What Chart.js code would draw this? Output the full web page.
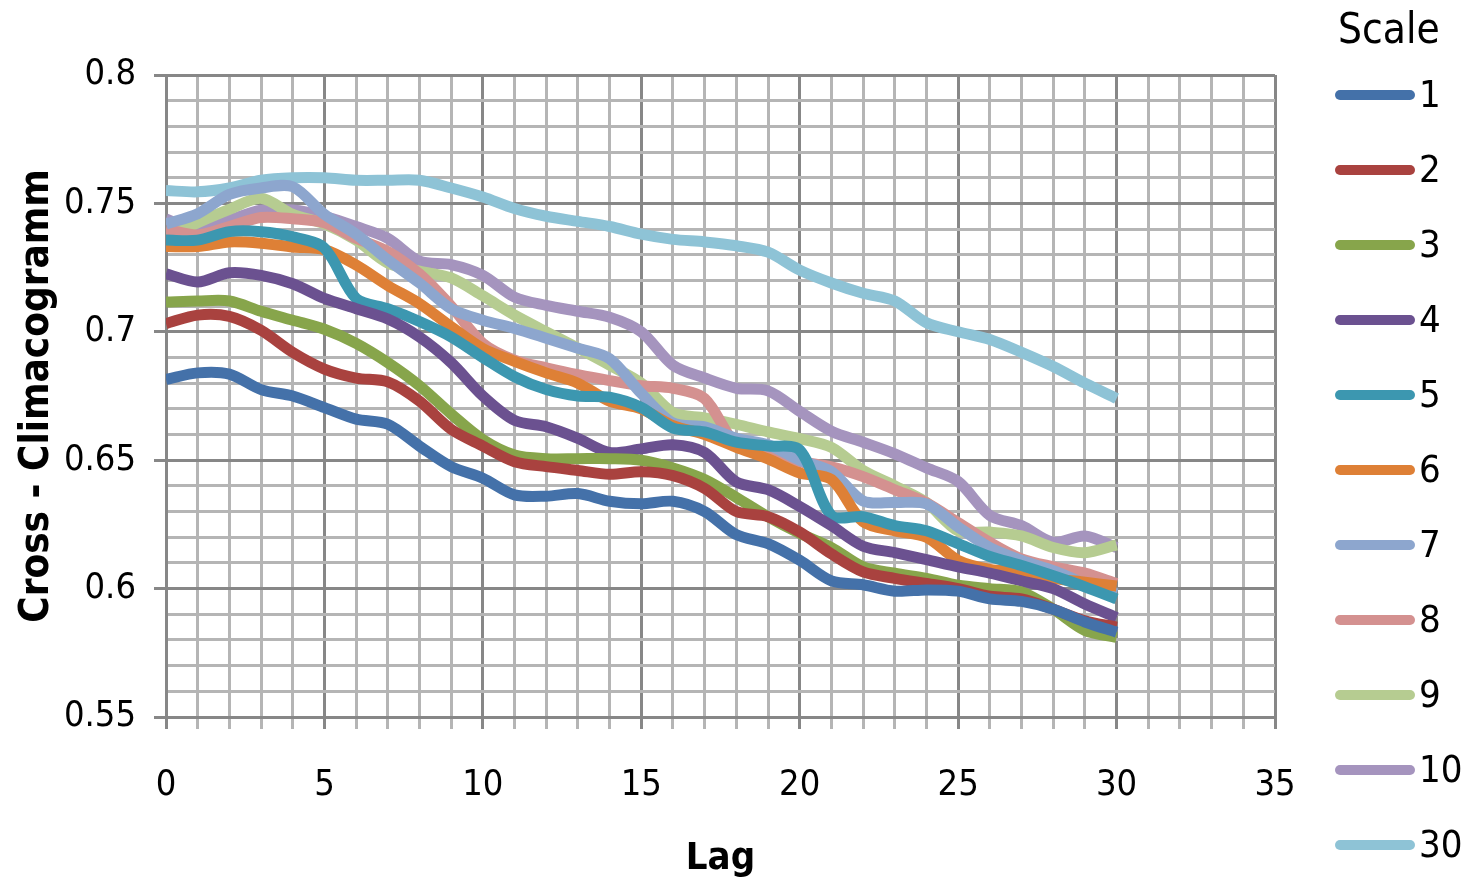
<!DOCTYPE html>
<html>
<head>
<meta charset="utf-8">
<script src="https://cdn.jsdelivr.net/npm/chart.js@4.4.0/dist/chart.umd.min.js"></script>
<style>
  html, body { margin: 0; padding: 0; background: #fff; }
  #wrap { width: 1467px; height: 888px; }
</style>
</head>
<body>
<div id="wrap"><canvas id="climaChart" width="1467" height="888"></canvas></div>
<script>
// lag values on the x axis
var lags = [0, 1, 2, 3, 4, 5, 6, 7, 8, 9, 10, 11, 12, 13, 14, 15, 16, 17, 18, 19, 20,
            21, 22, 23, 24, 25, 26, 27, 28, 29, 30];

var scaleNames = ['1', '2', '3', '4', '5', '6', '7', '8', '9', '10', '30'];

var scale1 = [0.6815, 0.684, 0.6835, 0.6775, 0.675, 0.6705, 0.666, 0.664, 0.6555, 0.6475, 0.643,
              0.6365, 0.636, 0.637, 0.634, 0.633, 0.634, 0.630, 0.621, 0.6175, 0.611,
              0.603, 0.6015, 0.599, 0.5995, 0.599, 0.596, 0.595, 0.592, 0.587, 0.583];
var scale2 = [0.7032, 0.7065, 0.706, 0.7006, 0.692, 0.6855, 0.682, 0.6805, 0.673, 0.662, 0.6555,
              0.6494, 0.6475, 0.646, 0.6445, 0.6455, 0.644, 0.639, 0.630, 0.628, 0.622,
              0.6135, 0.6065, 0.604, 0.602, 0.600, 0.597, 0.596, 0.592, 0.5875, 0.585];
var scale3 = [0.7116, 0.712, 0.712, 0.708, 0.7045, 0.701, 0.6955, 0.688, 0.679, 0.668, 0.658,
              0.652, 0.6506, 0.6506, 0.6506, 0.650, 0.647, 0.6425, 0.6355, 0.628, 0.6215,
              0.616, 0.6085, 0.606, 0.604, 0.6013, 0.600, 0.5987, 0.592, 0.5837, 0.581];
var scale4 = [0.7226, 0.7194, 0.723, 0.722, 0.7187, 0.713, 0.709, 0.705, 0.698, 0.688, 0.675,
              0.6655, 0.663, 0.6585, 0.653, 0.6544, 0.656, 0.653, 0.6415, 0.6385, 0.632,
              0.6245, 0.6165, 0.614, 0.6113, 0.6085, 0.606, 0.603, 0.600, 0.594, 0.5887];
var scale5 = [0.7357, 0.7357, 0.739, 0.739, 0.737, 0.7326, 0.713, 0.709, 0.704, 0.698, 0.690,
              0.6825, 0.6775, 0.675, 0.6745, 0.6705, 0.6625, 0.661, 0.657, 0.6555, 0.654,
              0.6285, 0.628, 0.6245, 0.6225, 0.6175, 0.6125, 0.609, 0.605, 0.6007, 0.596];
var scale6 = [0.7332, 0.7332, 0.735, 0.7345, 0.733, 0.732, 0.726, 0.718, 0.711, 0.702, 0.6935,
              0.6885, 0.684, 0.680, 0.673, 0.670, 0.6635, 0.660, 0.655, 0.6505, 0.645,
              0.6425, 0.626, 0.6225, 0.620, 0.611, 0.6075, 0.6065, 0.604, 0.6025, 0.601];
var scale7 = [0.742, 0.746, 0.7535, 0.756, 0.7565, 0.7457, 0.738, 0.728, 0.719, 0.709, 0.7045,
              0.7013, 0.6975, 0.6936, 0.6895, 0.676, 0.6645, 0.663, 0.6585, 0.656, 0.650,
              0.6456, 0.6341, 0.6335, 0.633, 0.624, 0.616, 0.611, 0.607, 0.602, 0.598];
var scale8 = [0.740, 0.7377, 0.741, 0.7445, 0.744, 0.7425, 0.7364, 0.7313, 0.7225, 0.710, 0.6955,
              0.689, 0.686, 0.6833, 0.681, 0.679, 0.678, 0.674, 0.656, 0.652, 0.6494,
              0.6474, 0.6436, 0.6385, 0.6334, 0.6257, 0.618, 0.6116, 0.6085, 0.606, 0.602];
var scale9 = [0.7367, 0.7425, 0.7477, 0.752, 0.7457, 0.742, 0.7357, 0.7268, 0.7236, 0.721, 0.714,
              0.7065, 0.700, 0.6936, 0.687, 0.680, 0.6685, 0.6665, 0.664, 0.661, 0.6584,
              0.655, 0.646, 0.640, 0.6335, 0.6225, 0.622, 0.6205, 0.616, 0.614, 0.617];
var scale10 = [0.744, 0.7396, 0.7435, 0.7474, 0.7474, 0.745, 0.741, 0.7364, 0.7275, 0.7262, 0.722,
               0.7135, 0.7103, 0.708, 0.7057, 0.700, 0.687, 0.682, 0.678, 0.677, 0.669,
               0.6613, 0.657, 0.6525, 0.647, 0.6417, 0.6285, 0.6245, 0.618, 0.6205, 0.616];
var scale30 = [0.755, 0.7545, 0.756, 0.759, 0.760, 0.760, 0.759, 0.759, 0.759, 0.756, 0.7525,
               0.748, 0.745, 0.743, 0.741, 0.738, 0.736, 0.735, 0.7335, 0.731, 0.724,
               0.719, 0.715, 0.712, 0.7035, 0.700, 0.697, 0.692, 0.6865, 0.680, 0.674];

var seriesValues = [scale1, scale2, scale3, scale4, scale5, scale6, scale7, scale8, scale9, scale10, scale30];
var seriesColors = ['#4471A9', '#A9423F', '#87A54B', '#6B5190', '#3C97B0', '#DE8036',
                    '#8DA6CE', '#D49190', '#B6CC91', '#A594BE', '#8EC3D6'];

var fontFamily = '"Liberation Sans Narrow", "DejaVu Sans Condensed", "Liberation Sans", sans-serif';

function isMajor(v, unit) {
    return Math.round(v / unit) % 5 === 0;
}

// legend drawn to the right like the Excel original
var sideLegend = {
    id: 'sideLegend',
    afterDraw: function (chart) {
        var c = chart.ctx;
        c.save();
        c.fillStyle = '#000';
        c.textBaseline = 'middle';
        c.textAlign = 'left';
        c.font = '42px ' + fontFamily;
        c.fillText('Scale', 1338, 32);
        c.font = '38px ' + fontFamily;
        chart.data.datasets.forEach(function (ds, i) {
            var y = 95 + i * 75;
            c.strokeStyle = ds.borderColor;
            c.lineWidth = 10;
            c.lineCap = 'round';
            c.beginPath();
            c.moveTo(1340, y);
            c.lineTo(1410, y);
            c.stroke();
            c.fillText(ds.label, 1419, y + 2);
        });
        c.restore();
    }
};

var ctx = document.getElementById('climaChart').getContext('2d');
var climaChart = new Chart(ctx, {
    type: 'line',
    data: {
        datasets: seriesValues.map(function (vals, i) {
            return {
                label: scaleNames[i],
                data: vals.map(function (v, j) { return { x: lags[j], y: v }; }),
                borderColor: seriesColors[i],
                backgroundColor: seriesColors[i],
                borderWidth: 11,
                pointRadius: 0,
                tension: 0.3,
                fill: false
            };
        })
    },
    options: {
        responsive: false,
        animation: false,
        layout: { padding: { top: 75, right: 192, left: 0, bottom: 0 } },
        plugins: {
            legend: { display: false },
            tooltip: { enabled: false }
        },
        scales: {
            x: {
                type: 'linear',
                min: 0,
                max: 35,
                afterFit: function (scale) { scale.height = 171; },
                border: { color: '#878787', width: 3 },
                grid: {
                    lineWidth: 3,
                    tickLength: 12,
                    color: function (c) { return isMajor(c.tick.value, 1) ? '#878787' : '#b5b5b5'; },
                    tickColor: function (c) { return isMajor(c.tick.value, 1) ? '#878787' : '#b5b5b5'; }
                },
                ticks: {
                    stepSize: 1,
                    autoSkip: false,
                    maxRotation: 0,
                    maxTicksLimit: 100,
                    padding: 35,
                    color: '#000',
                    font: { family: fontFamily, size: 36 },
                    callback: function (v) { return isMajor(v, 1) ? String(v) : ''; }
                },
                title: {
                    display: true,
                    text: 'Lag',
                    color: '#000',
                    padding: { top: 0, bottom: 6 },
                    font: { family: fontFamily, size: 38, weight: 'bold' }
                }
            },
            y: {
                min: 0.55,
                max: 0.8,
                afterFit: function (scale) { scale.width = 166; },
                border: { color: '#878787', width: 3 },
                grid: {
                    lineWidth: 3,
                    tickLength: 12,
                    color: function (c) { return isMajor(c.tick.value, 0.01) ? '#878787' : '#b5b5b5'; },
                    tickColor: function (c) { return isMajor(c.tick.value, 0.01) ? '#878787' : 'rgba(0,0,0,0)'; }
                },
                ticks: {
                    stepSize: 0.01,
                    autoSkip: false,
                    maxTicksLimit: 100,
                    padding: 18,
                    color: '#000',
                    font: { family: fontFamily, size: 36 },
                    callback: function (v) {
                        var n = Math.round(v * 100);
                        if (n % 5 !== 0) return '';
                        return String(n / 100);
                    }
                },
                title: {
                    display: true,
                    text: 'Cross - Climacogramm',
                    color: '#000',
                    padding: { top: 14, bottom: 0 },
                    font: { family: fontFamily, size: 40, weight: 'bold' }
                }
            }
        }
    },
    plugins: [sideLegend]
});
</script>
</body>
</html>
